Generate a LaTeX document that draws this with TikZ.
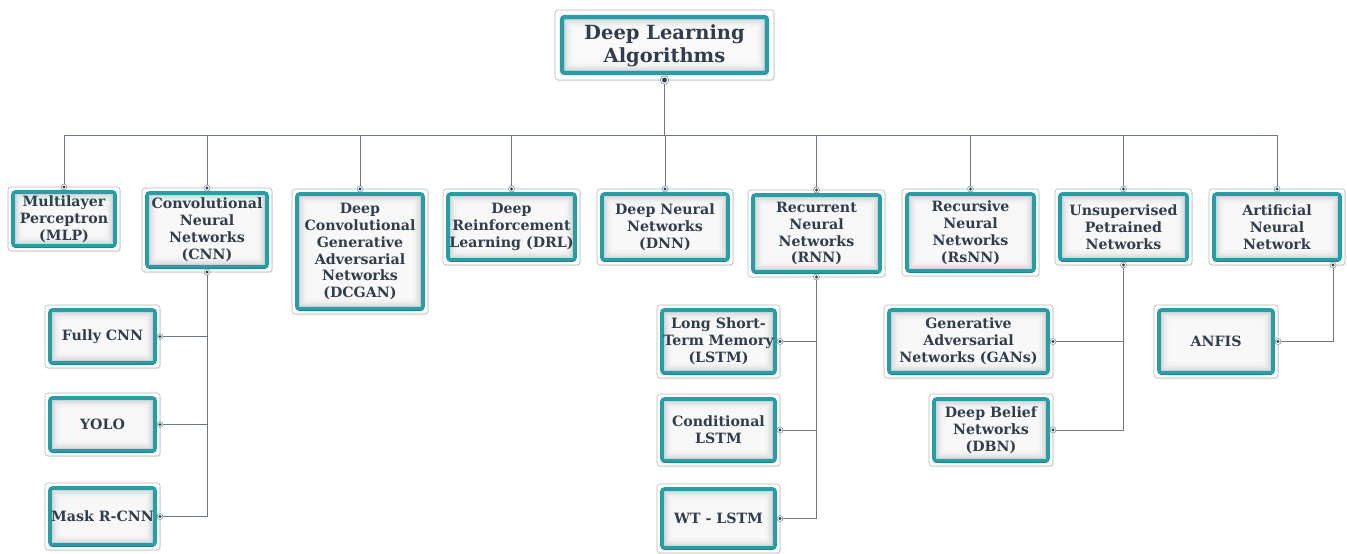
\documentclass[tikz,border=0pt]{standalone}
\usepackage{fontspec}
\setmainfont{DejaVu Serif}
\usetikzlibrary{calc,shadows}
\definecolor{tealedge}{RGB}{32,160,168}
\definecolor{slate}{RGB}{47,62,78}
\definecolor{wire}{RGB}{110,120,128}
\tikzset{
  x=1pt, y=-1pt,
  outerbox/.style={draw=black!28, line width=0.6pt, fill=white, rounded corners=3pt,
    inner sep=0pt, outer sep=0pt,
    drop shadow={opacity=0.12, shadow xshift=1pt, shadow yshift=-1.2pt}},
  tealframe/.style={draw=tealedge, line width=3.6pt, rounded corners=2.5pt},
  lbl/.style={text=slate, align=center, font=\bfseries\fontsize{14.2}{16.9}\selectfont, inner sep=0pt},
  conn/.style={draw=wire, line width=0.8pt},
}
% one labelled box: name, outer x1, y1, x2, y2, text
\newcommand{\dlbox}[6]{%
  \node[outerbox, minimum width={(#4-#2)*1pt}, minimum height={(#5-#3)*1pt}]
    (#1) at ({(#2+#4)/2},{(#3+#5)/2}) {};
  \fill[black!26, rounded corners=2.5pt] ({#2+5},{#3+5}) rectangle ({#4-5},{#5-5});
  \foreach \k in {1,...,7}{
    \fill[white, opacity=0.3, rounded corners=2pt]
      ({#2+5+\k*1.5},{#3+5+\k*1.5}) rectangle ({#4-5-\k*1.5},{#5-5-\k*1.5});
  }
  \draw[tealframe] ({#2+5},{#3+5}) rectangle ({#4-5},{#5-5});
  \draw[draw=tealedge!70!black, line width=1pt, opacity=0.5] ({#2+6},{#5-4}) -- ({#4-6},{#5-4});
  \node[lbl] (#1-t) at ({(#2+#4)/2},{(#3+#5)/2}) {#6};
}
% small connector socket
\newcommand{\sock}[1]{%
  \filldraw[draw=wire!80, fill=white, line width=0.6pt] (#1) circle (3pt);
  \fill[slate] (#1) circle (1.7pt);
}
\begin{document}
\begin{tikzpicture}
\useasboundingbox (0,0) rectangle (1347,554);

% root
\node[outerbox, minimum width=219pt, minimum height=70pt] (root) at (664.5,45) {};
\fill[black!26, rounded corners=2.5pt] (562,17) rectangle (767,73);
\foreach \k in {1,...,8}{
  \fill[white, opacity=0.3, rounded corners=2pt] ({562+\k*1.5},{17+\k*1.5}) rectangle ({767-\k*1.5},{73-\k*1.5});
}
\draw[tealframe, line width=4.2pt] (562,17) rectangle (767,73);
\node[lbl, font=\bfseries\fontsize{19.5}{23.5}\selectfont] (root-t) at (664.5,46) {Deep Learning\\Algorithms};

% first level
\dlbox{mlp}{8}{187}{120}{251}{Multilayer\\Perceptron\\(MLP)}
\dlbox{cnn}{142}{188}{272}{272}{Convolutional\\Neural\\Networks\\(CNN)}
\dlbox{dcgan}{292}{189}{428}{314}{Deep\\Convolutional\\Generative\\Adversarial\\Networks\\(DCGAN)}
\dlbox{drl}{443}{189}{580}{265}{Deep\\Reinforcement\\Learning (DRL)}
\dlbox{dnn}{597}{189}{733}{265}{Deep Neural\\Networks\\(DNN)}
\dlbox{rnn}{748}{190}{885}{277}{Recurrent\\Neural\\Networks\\(RNN)}
\dlbox{rsnn}{902}{189}{1039}{276}{Recursive\\Neural\\Networks\\(RsNN)}
\dlbox{upn}{1055}{189}{1192}{265}{Unsupervised\\Petrained\\Networks}
\dlbox{ann}{1209}{189}{1345}{265}{Artificial\\Neural\\Network}

% second level
\dlbox{fcnn}{45}{305}{160}{368}{Fully CNN}
\dlbox{yolo}{45}{393}{160}{456}{YOLO}
\dlbox{mask}{45}{483}{160}{550}{Mask R-CNN}
\dlbox{lstm}{657}{305}{780}{378}{Long Short-\\Term Memory\\(LSTM)}
\dlbox{clstm}{657}{394}{780}{466}{Conditional\\LSTM}
\dlbox{wtlstm}{657}{484}{780}{553}{WT - LSTM}
\dlbox{gans}{884}{305}{1053}{378}{Generative\\Adversarial\\Networks (GANs)}
\dlbox{dbn}{929}{394}{1053}{466}{Deep Belief\\Networks\\(DBN)}
\dlbox{anfis}{1154}{305}{1278}{378}{ANFIS}

% bus from the root to the first level
\coordinate (bus) at (664.5,135);
\coordinate (annout) at (1333,265);
\draw[conn] (root.south) -- (bus);
\draw[conn] (bus -| mlp.north) -- (bus -| ann.north);
\foreach \n in {mlp,cnn,dcgan,drl,dnn,rnn,rsnn,upn,ann}{
  \draw[conn] (bus -| \n.north) -- (\n.north);
}
% branches to the second level
\foreach \n in {fcnn,yolo,mask}{ \draw[conn] (\n.east) -| (cnn.south); }
\foreach \n in {lstm,clstm,wtlstm}{ \draw[conn] (\n.east) -| (rnn.south); }
\foreach \n in {gans,dbn}{ \draw[conn] (\n.east) -| (upn.south); }
\draw[conn] (anfis.east) -| (annout);

% sockets
\filldraw[draw=wire!80, fill=white, line width=0.7pt] (root.south) circle (4.2pt);
\fill[slate] (root.south) circle (2.4pt);
\foreach \n in {mlp,cnn,dcgan,drl,dnn,rnn,rsnn,upn,ann}{ \sock{\n.north} }
\foreach \n in {cnn,rnn,upn}{ \sock{\n.south} }
\sock{annout}
\foreach \n in {fcnn,yolo,mask,lstm,clstm,wtlstm,gans,dbn,anfis}{ \sock{\n.east} }
\end{tikzpicture}
\end{document}
